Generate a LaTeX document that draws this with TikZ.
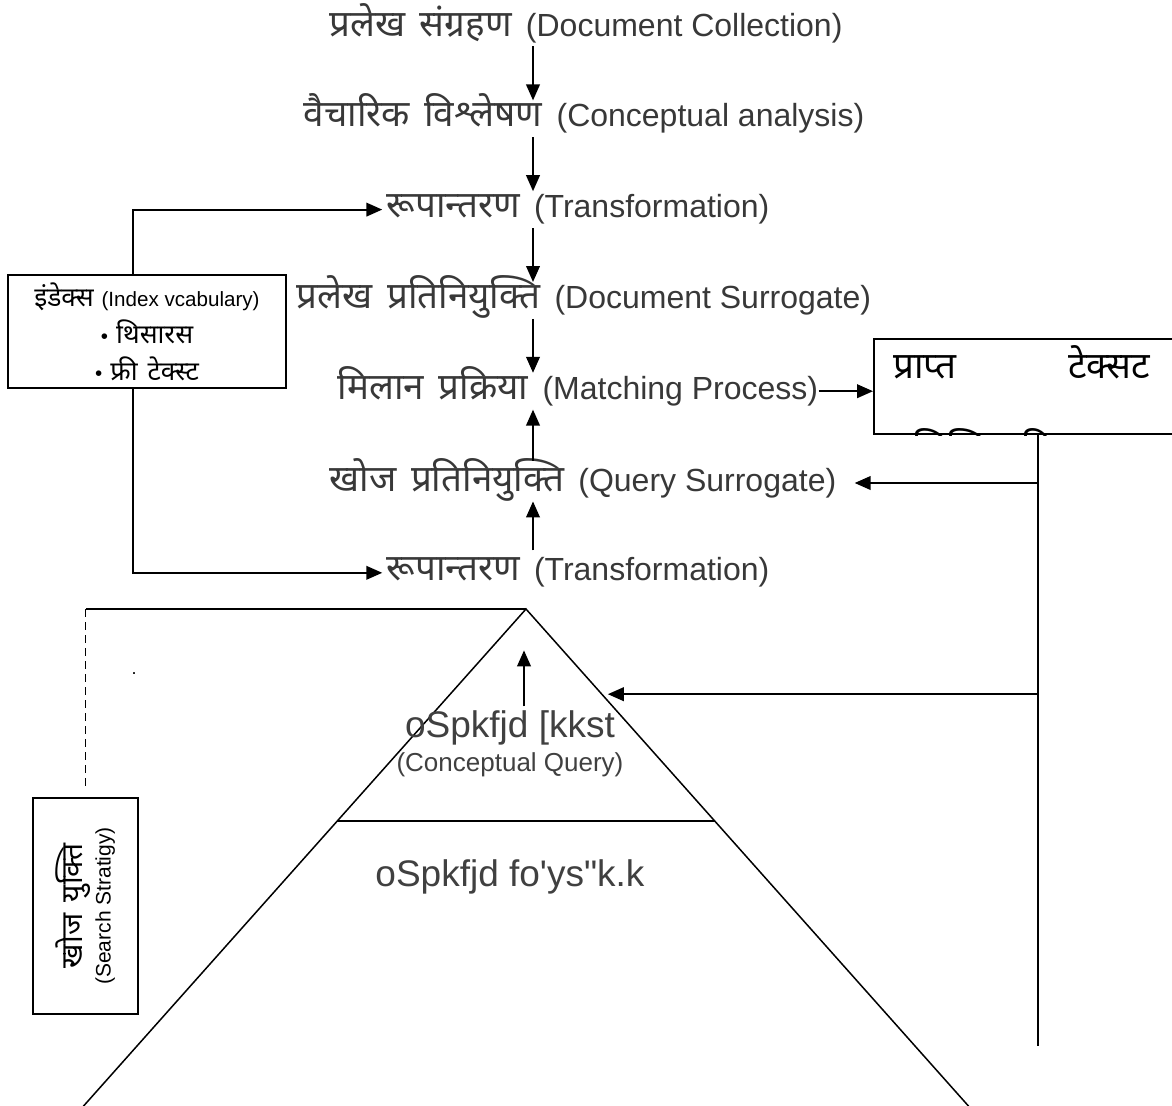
\documentclass[tikz,border=0pt]{standalone}
\usepackage{fontspec}
\setmainfont{Liberation Sans}
\newfontfamily\hindi[Script=Devanagari, Scale=1.15, WordSpace=1.5]{Noto Sans}
\usetikzlibrary{positioning, calc, arrows.meta}

\begin{document}
\begin{tikzpicture}[
		x=0.5pt, y=-0.5pt,
		stage/.style={inner sep=0pt, text height=12pt, text depth=4pt, text=black!78, font=\fontsize{16}{19}\selectfont},
		vocab/.style={rectangle, draw, line width=1pt, align=center, minimum width=139pt, minimum height=56.5pt, font=\fontsize{10.3}{18.5}\selectfont},
		boxed/.style={rectangle, draw, line width=1pt, inner sep=0pt},
		mylabel/.style={inner sep=0pt, text=black!75},
		conn/.style={line width=1pt},
		>={Triangle[length=8pt, width=6.8pt]}
	]

	\useasboundingbox (0,0) rectangle (1172,1105);

	% main chain
	\node[stage] (coll) at (586,28) {{\hindi प्रलेख संग्रहण }(Document Collection)};
	\node[stage, below=29pt of coll, xshift=-1pt] (anal) {{\hindi वैचारिक विश्लेषण }(Conceptual analysis)};
	\node[stage, below=29pt of anal, xshift=-3pt] (trans1) {{\hindi रूपान्तरण }(Transformation)};
	\node[stage, below=29pt of trans1, xshift=3pt] (docsur) {{\hindi प्रलेख प्रतिनियुक्ति }(Document Surrogate)};
	\node[stage, below=29pt of docsur, xshift=-3pt] (match) {{\hindi मिलान प्रक्रिया }(Matching Process)};
	\node[stage, below=29.5pt of match, xshift=2.5pt] (qsur) {{\hindi खोज प्रतिनियुक्ति }(Query Surrogate)};
	\node[stage, below=28.5pt of qsur, xshift=-2.5pt] (trans2) {{\hindi रूपान्तरण }(Transformation)};
	\coordinate (spine) at (533,0);

	% side boxes
	\node[vocab] (ivocab) at (147,331.5) {{\hindi\fontsize{11.5}{18.5}\selectfont इंडेक्स}\hspace{4pt}(Index vcabulary)\\
		•\hspace{4pt}{\hindi\fontsize{11.5}{18.5}\selectfont थिसारस}\\
		•\hspace{4pt}{\hindi\fontsize{11.5}{18.5}\selectfont फ्री\hspace{5pt}टेक्स्ट}};
	\node[boxed, minimum width=160pt, minimum height=47.5pt, anchor=north west] (retr) at (873,338) {};
	\node[inner sep=0pt, anchor=base west, font=\fontsize{16}{19}\selectfont\hindi] (got) at (893,378) {प्राप्त};
	\node[inner sep=0pt, anchor=base west, font=\fontsize{16}{19}\selectfont\hindi] (txt) at (1068,378) {टेक्सट};
	\begin{scope}
		\clip (retr.south west) rectangle (retr.north east);
		\node[inner sep=0pt, anchor=base west, font=\fontsize{16}{19}\selectfont\hindi] (cut) at (913,461) {लिखित विषय};
	\end{scope}
	\node[boxed, rotate=90, minimum width=108pt, minimum height=52.5pt, align=center, font=\fontsize{10.5}{14}\selectfont] (strat) at (85.5,906)
		{{\hindi\fontsize{13}{14}\selectfont खोज युक्ति}\\(Search Stratigy)};
	\node[font=\small] (speck) at (134,674) {.};

	% pyramid
	\coordinate (apex) at (526,609);
	\coordinate (lfoot) at (80,1110);
	\coordinate (rfoot) at (972,1110);
	\draw[line width=0.75pt] (lfoot) -- (apex) -- (rfoot);
	\draw[line width=0.75pt] ($(apex)!0.423!(lfoot)$) -- ($(apex)!0.423!(rfoot)$);
	\node[mylabel, font=\fontsize{18.5}{22}\selectfont] (cq) at (510,728) {oSpkfjd [kkst};
	\node[mylabel, font=\fontsize{13}{16}\selectfont] (cqen) at (510,765) {(Conceptual Query)};
	\node[mylabel, font=\fontsize{18.5}{22}\selectfont] (cv) at (510,877) {oSpkfjd fo\textquotesingle ys\textquotedbl k.k};

	% connectors
	\foreach \i/\j in {coll/anal, anal/trans1, trans1/docsur, docsur/match}
		\draw[conn, ->, shorten <=1pt, shorten >=1pt] (\i.south -| spine) -- (\j.north -| spine);

	\foreach \i/\j in {qsur/match, trans2/qsur}
		\draw[conn, ->, shorten <=3pt, shorten >=1pt] (\i.north -| spine) -- (\j.south -| spine);

	\foreach \i/\j in {north/trans1, south/trans2}
		\draw[conn, ->, shorten >=2pt] ([xshift=-7pt]ivocab.\i) |- (\j.west);

	\draw[conn, ->] (match.east) -- (match.east -| retr.west);

	\coordinate (feedend) at (1038,1046);
	\coordinate (hit) at ($(apex)!0.17!(rfoot)$);
	\draw[conn] (retr.south -| feedend) -- (feedend);
	\draw[conn, ->, shorten >=9pt] (qsur.east -| feedend) -- (qsur.east);
	\draw[conn, ->, shorten >=3pt] (feedend |- hit) -- (hit);
	\draw[conn, ->] ([xshift=7pt, yshift=2pt]cq.north) -- ++(0,-56);

	\draw[line width=0.75pt] (apex) -- (strat.east |- apex);
	\draw[line width=0.75pt, dash pattern=on 4pt off 2.5pt] (strat.east |- apex) -- ([yshift=4pt]strat.east);

\end{tikzpicture}
\end{document}
